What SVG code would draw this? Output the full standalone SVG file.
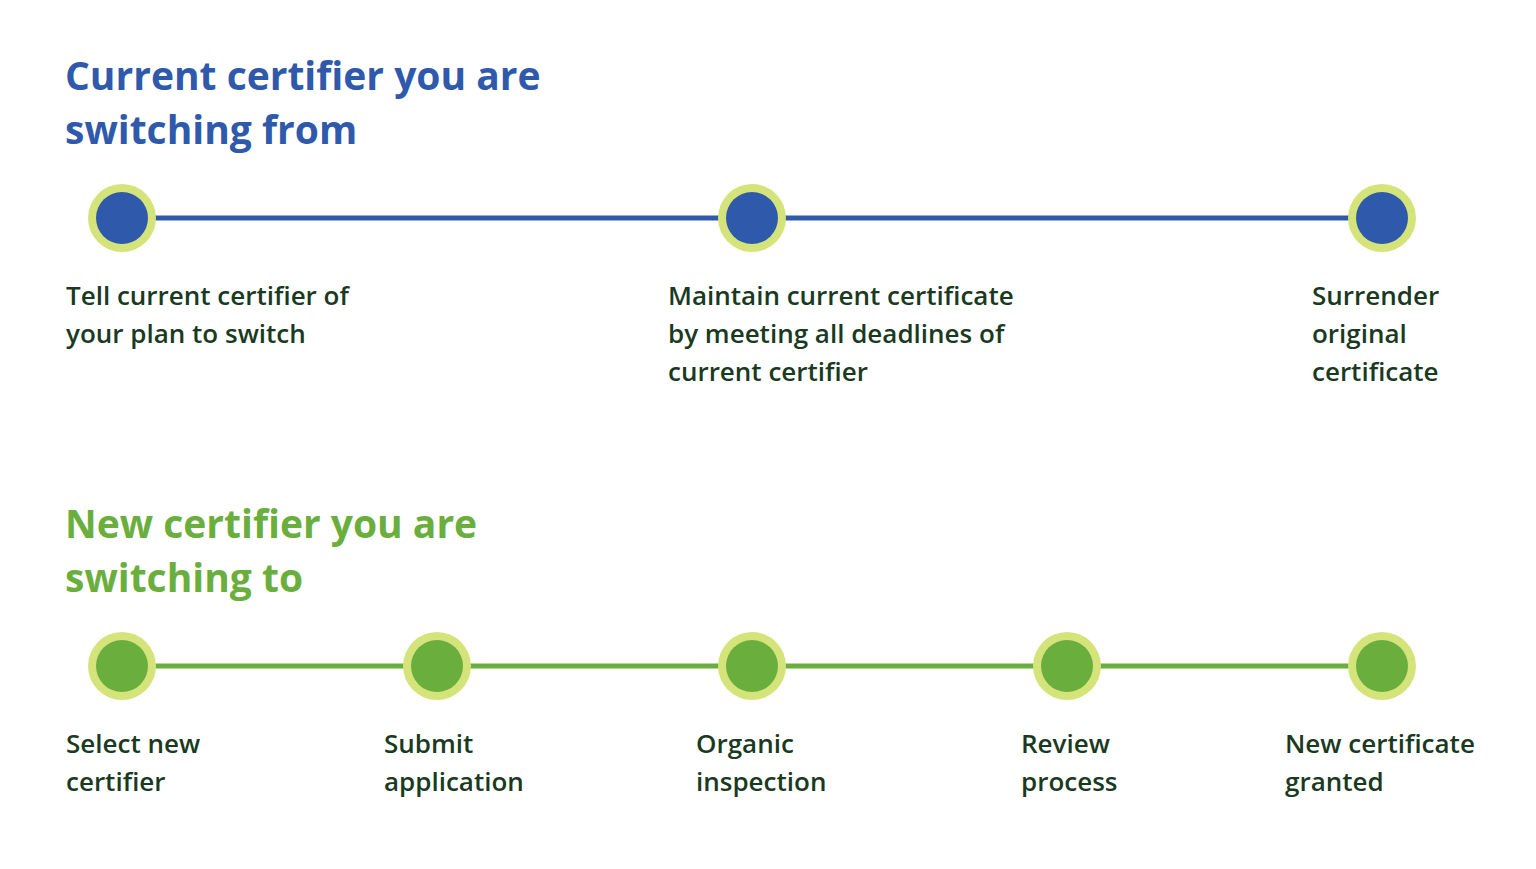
<svg xmlns="http://www.w3.org/2000/svg" width="1536" height="869" viewBox="0 0 1536 869">
<style>
.h{font-family:"Open Sans",sans-serif;font-weight:700;font-size:39px}
.t{font-family:"Open Sans",sans-serif;font-weight:600;font-size:26px;fill:#1a3a1f}
.ring{fill:#d4e47a}
.b{fill:#2f5aab}.g{fill:#6aaf3d}
.lb{stroke:#2f5aab;stroke-width:5}.lg{stroke:#6aaf3d;stroke-width:5}
</style>
<rect width="1536" height="869" fill="#fff"/>
<text class="h" fill="#2f5aab"><tspan x="65" y="90">Current certifier you are</tspan><tspan x="65" y="144">switching from</tspan></text>
<text class="h" fill="#6aaf3d"><tspan x="65" y="538">New certifier you are</tspan><tspan x="65" y="592">switching to</tspan></text>
<g id="connectors">
<line class="lb" x1="150" y1="218" x2="1355" y2="218"/>
<line class="lg" x1="150" y1="666" x2="1355" y2="666"/>
</g>
<g id="n1"><circle class="ring" cx="122" cy="218" r="34"/><circle class="b" cx="122" cy="218" r="26"/><text class="t"><tspan x="66" y="305">Tell current certifier of</tspan><tspan x="66" y="343">your plan to switch</tspan></text></g>
<g id="n2"><circle class="ring" cx="752" cy="218" r="34"/><circle class="b" cx="752" cy="218" r="26"/><text class="t"><tspan x="668" y="305">Maintain current certificate</tspan><tspan x="668" y="343">by meeting all deadlines of</tspan><tspan x="668" y="381">current certifier</tspan></text></g>
<g id="n3"><circle class="ring" cx="1382" cy="218" r="34"/><circle class="b" cx="1382" cy="218" r="26"/><text class="t"><tspan x="1312" y="305">Surrender</tspan><tspan x="1312" y="343">original</tspan><tspan x="1312" y="381">certificate</tspan></text></g>
<g id="m1"><circle class="ring" cx="122" cy="666" r="34"/><circle class="g" cx="122" cy="666" r="26"/><text class="t"><tspan x="66" y="753">Select new</tspan><tspan x="66" y="791">certifier</tspan></text></g>
<g id="m2"><circle class="ring" cx="437" cy="666" r="34"/><circle class="g" cx="437" cy="666" r="26"/><text class="t"><tspan x="384" y="753">Submit</tspan><tspan x="384" y="791">application</tspan></text></g>
<g id="m3"><circle class="ring" cx="752" cy="666" r="34"/><circle class="g" cx="752" cy="666" r="26"/><text class="t"><tspan x="696" y="753">Organic</tspan><tspan x="696" y="791">inspection</tspan></text></g>
<g id="m4"><circle class="ring" cx="1067" cy="666" r="34"/><circle class="g" cx="1067" cy="666" r="26"/><text class="t"><tspan x="1021" y="753">Review</tspan><tspan x="1021" y="791">process</tspan></text></g>
<g id="m5"><circle class="ring" cx="1382" cy="666" r="34"/><circle class="g" cx="1382" cy="666" r="26"/><text class="t"><tspan x="1285" y="753">New certificate</tspan><tspan x="1285" y="791">granted</tspan></text></g>
</svg>
